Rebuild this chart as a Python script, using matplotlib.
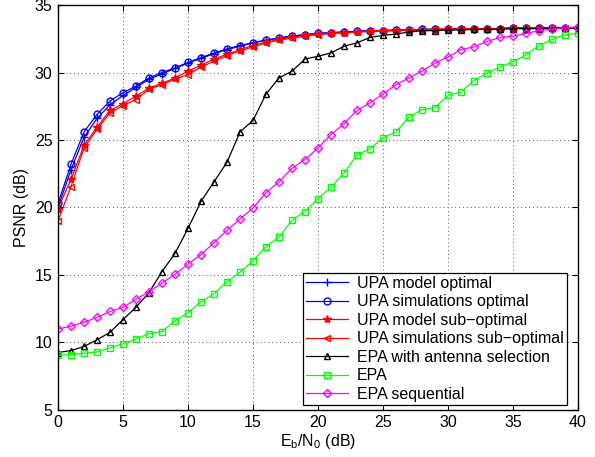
import matplotlib
matplotlib.use('Agg')
import matplotlib.pyplot as plt
import numpy as np

plt.rcParams['font.family'] = ['Liberation Sans', 'DejaVu Sans']
plt.rcParams['mathtext.fontset'] = 'custom'
plt.rcParams['mathtext.rm'] = 'Liberation Sans'

x = np.arange(0, 41)

# UPA model optimal
upa_model_opt = [20.0, 22.8, 25.2, 26.6, 27.6, 28.3, 28.9, 29.5, 29.9, 30.3,
                 30.7, 31.05, 31.4, 31.7, 31.95, 32.2, 32.4, 32.55, 32.7, 32.8,
                 32.9, 32.95, 33.0, 33.05, 33.1, 33.1, 33.15, 33.15, 33.2, 33.2,
                 33.2, 33.25, 33.25, 33.25, 33.25, 33.3, 33.3, 33.3, 33.3, 33.3, 33.3]
# UPA simulations optimal
upa_sim_opt = [20.3, 23.2, 25.6, 26.9, 27.9, 28.5, 29.0, 29.6, 30.0, 30.35,
               30.75, 31.1, 31.45, 31.75, 32.0, 32.2, 32.4, 32.55, 32.7, 32.8,
               32.9, 32.95, 33.0, 33.05, 33.1, 33.1, 33.15, 33.15, 33.2, 33.2,
               33.2, 33.25, 33.25, 33.25, 33.25, 33.3, 33.3, 33.3, 33.3, 33.3, 33.3]
# UPA model sub-optimal
upa_model_sub = [19.9, 22.1, 24.6, 25.95, 27.2, 27.7, 28.25, 28.85, 29.2, 29.6,
                 30.1, 30.55, 31.0, 31.35, 31.7, 32.0, 32.25, 32.45, 32.6, 32.75,
                 32.85, 32.9, 32.95, 33.0, 33.05, 33.1, 33.1, 33.15, 33.15, 33.2,
                 33.2, 33.2, 33.25, 33.25, 33.25, 33.3, 33.3, 33.3, 33.3, 33.3, 33.3]
# UPA simulations sub-optimal
upa_sim_sub = [19.0, 21.55, 24.4, 25.8, 27.0, 27.55, 28.0, 28.75, 29.1, 29.5,
               29.85, 30.4, 30.85, 31.25, 31.6, 31.9, 32.2, 32.4, 32.55, 32.7,
               32.8, 32.9, 32.95, 33.0, 33.05, 33.1, 33.1, 33.15, 33.15, 33.2,
               33.2, 33.2, 33.25, 33.25, 33.25, 33.3, 33.3, 33.3, 33.3, 33.3, 33.3]
# EPA with antenna selection
epa_ant = [9.25, 9.4, 9.7, 10.2, 10.75, 11.7, 12.6, 13.7, 15.25, 16.6,
           18.45, 20.45, 21.9, 23.35, 25.6, 26.45, 28.4, 29.6, 30.1, 31.0,
           31.2, 31.45, 31.95, 32.2, 32.6, 32.75, 32.85, 33.0, 33.1, 33.1,
           33.15, 33.15, 33.2, 33.2, 33.2, 33.25, 33.25, 33.25, 33.3, 33.3, 33.3]
# EPA
epa = [9.06, 9.1, 9.2, 9.3, 9.6, 9.9, 10.25, 10.65, 10.8, 11.6,
       12.2, 13.0, 13.6, 14.5, 15.2, 16.05, 17.1, 17.8, 19.05, 19.7,
       20.65, 21.5, 22.55, 23.9, 24.35, 25.15, 25.6, 26.7, 27.25, 27.4,
       28.3, 28.55, 29.4, 29.95, 30.4, 30.8, 31.3, 32.0, 32.45, 32.8, 32.9]
# EPA sequential
epa_seq = [11.0, 11.2, 11.5, 11.85, 12.3, 12.6, 13.2, 13.75, 14.4, 15.05,
           15.8, 16.5, 17.4, 18.3, 19.15, 19.95, 21.1, 21.9, 22.9, 23.55,
           24.4, 25.4, 26.2, 27.2, 27.75, 28.4, 29.1, 29.6, 30.1, 30.7,
           31.15, 31.7, 31.9, 32.3, 32.6, 32.7, 32.9, 33.1, 33.2, 33.3, 33.4]

fig = plt.figure(figsize=(5.95, 4.57), dpi=100)
ax = fig.add_axes([0.0975, 0.103, 0.874, 0.886])

ms = 5
ax.plot(x, upa_model_opt, color='b', marker='+', ms=ms + 1, lw=0.9, label='UPA model optimal')
ax.plot(x, upa_sim_opt, color='b', marker='o', mfc='none', ms=ms, lw=0.9, label='UPA simulations optimal')
ax.plot(x, upa_model_sub, color='r', marker='*', ms=ms + 1, lw=0.9, label='UPA model sub\u2212optimal')
ax.plot(x, upa_sim_sub, color='r', marker='<', mfc='none', ms=ms, lw=0.9, label='UPA simulations sub\u2212optimal')
ax.plot(x, epa_ant, color='k', marker='^', mfc='none', ms=ms, lw=0.9, label='EPA with antenna selection')
ax.plot(x, epa, color='#00ff00', marker='s', mfc='none', ms=ms - 0.5, lw=0.9, label='EPA')
ax.plot(x, epa_seq, color='#ff00ff', marker='D', mfc='none', ms=ms - 0.5, lw=0.9, label='EPA sequential')

ax.set_xlim(0, 40)
ax.set_ylim(5, 35)
ax.set_xticks(np.arange(0, 41, 5))
ax.set_yticks(np.arange(5, 36, 5))
ax.grid(True, linestyle=(0, (1, 3)), color='#555555', lw=0.7)
for s in ax.spines.values():
    s.set_linewidth(1.0)
ax.tick_params(direction='in', labelsize=11.5, top=True, right=True, length=4, pad=4)
ax.set_xlabel('E$_\\mathrm{b}$/N$_\\mathrm{0}$ (dB)', fontsize=11.5, labelpad=1)
ax.set_ylabel('PSNR (dB)', fontsize=11.5, labelpad=4)

leg = ax.legend(loc='lower right', bbox_to_anchor=(0.979, 0.012), fontsize=11.5,
                fancybox=False, edgecolor='k', framealpha=1, handlelength=2.6,
                handletextpad=0.6, labelspacing=0.22, borderpad=0.2, borderaxespad=0)
leg.get_frame().set_linewidth(0.9)

fig.savefig('out.png', dpi=100)
